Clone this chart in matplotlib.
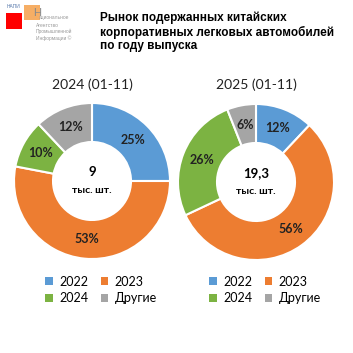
import matplotlib
matplotlib.use("Agg")
import matplotlib.pyplot as plt
from matplotlib.patches import Patch, Rectangle

plt.rcParams['font.family'] = ['Lato', 'DejaVu Sans']

categories = ["2022", "2023", "2024", "Другие"]
values_2024 = [25, 53, 10, 12]
values_2025 = [12, 56, 26, 6]
totals = ["9", "19,3"]
panel_titles = ["2024 (01-11)", "2025 (01-11)"]
unit = "тыс. шт."
title = "Рынок подержанных китайских\nкорпоративных легковых автомобилей\nпо году выпуска"
colors = ["#5B9BD5", "#ED7D31", "#7CB342", "#A5A5A5"]

W = H = 353
fig = plt.figure(figsize=(W / 100, H / 100), dpi=100)

def px_axes(cx, cy, r):
    return fig.add_axes([(cx - r) / W, (H - cy - r) / H, 2 * r / W, 2 * r / H])

centers = [(92, 181), (256, 182)]
R = 78
for i, (vals, (cx, cy)) in enumerate(zip([values_2024, values_2025], centers)):
    ax = px_axes(cx, cy, R)
    wedges, texts = ax.pie(vals, colors=colors, startangle=90, counterclock=False,
                           radius=1, wedgeprops=dict(width=0.5, edgecolor="white", linewidth=1.5),
                           labels=[f"{v}%" for v in vals], labeldistance=0.75,
                           textprops=dict(fontsize=9, fontweight="bold", color="#222222",
                                          ha="center", va="center"))
    ax.set_xlim(-1, 1)
    ax.set_ylim(-1, 1)
    ax.set_aspect("equal")
    ax.axis("off")
    ax.text(0, 0.12, totals[i], ha="center", va="center", fontsize=9.5, fontweight="bold")
    ax.text(0, -0.12, unit, ha="center", va="center", fontsize=7.5, fontweight="bold")
    fig.text(cx / W, 1 - 85 / H, panel_titles[i], ha="center", va="center", fontsize=10, color="#222222")
    handles = [Patch(facecolor=c, edgecolor="none") for c in colors]
    order = [0, 2, 1, 3]  # row-wise display in a 2-column legend
    fig.legend([handles[k] for k in order], [categories[k] for k in order], ncol=2, loc="center",
               bbox_to_anchor=((cx + 9) / W, 1 - 290 / H), frameon=False,
               fontsize=9, handlelength=0.6, handleheight=0.6, handletextpad=0.5,
               columnspacing=1.0, labelspacing=0.35)

# Title
fig.text(100 / W, 1 - 32 / H, title, ha="left", va="center", fontsize=8.5,
         fontweight="bold", family=["Liberation Sans", "DejaVu Sans"], linespacing=1.15)

# Logo
fig.patches.append(Rectangle((6 / W, 1 - 29 / H), 16 / W, 16 / H, transform=fig.transFigure,
                             facecolor="#FF0000", edgecolor="none"))
fig.patches.append(Rectangle((24 / W, 1 - 20 / H), 16 / W, 15 / H, transform=fig.transFigure,
                             facecolor="#F5A04A", edgecolor="none", alpha=0.85))
fig.text(7 / W, 1 - 7 / H, "НАПИ", fontsize=3.5, color="#5577AA", va="center", ha="left",
         family=["Liberation Sans"])
fig.text(33 / W, 1 - 13 / H, "Н", fontsize=8, color="#8a8a8a", va="center", ha="left",
         family=["Liberation Sans"])
fig.text(39 / W, 1 - 17 / H, "ациональное", fontsize=3.5, color="#999999", va="center",
         ha="left", family=["Liberation Sans"])
fig.text(36 / W, 1 - 32 / H, "Агентство\nПромышленной\nИнформации ©",
         fontsize=3.5, color="#999999", va="center", ha="left", family=["Liberation Sans"],
         linespacing=1.15)

fig.savefig("out.png", dpi=100, facecolor="white")
